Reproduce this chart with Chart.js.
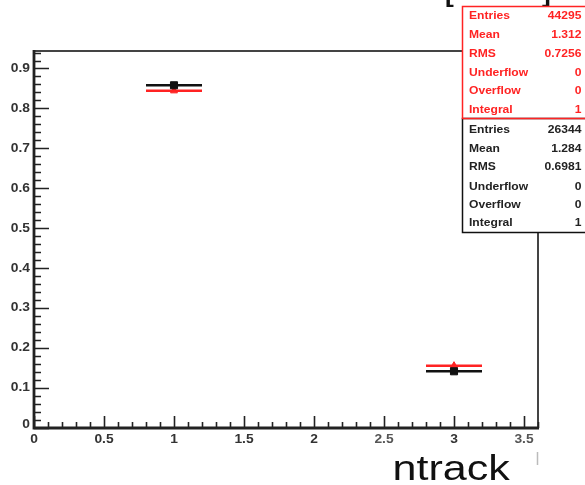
<!DOCTYPE html>
<html>
<head>
<meta charset="utf-8">
<script src="https://cdn.jsdelivr.net/npm/chart.js@4/dist/chart.umd.min.js"></script>
<style>html,body{margin:0;padding:0;background:#fff;}canvas{display:block;}</style>
</head>
<body>
<canvas id="c" width="585" height="485"></canvas>
<script>
// ---- data ----
const binCenters = [1, 3];
const binWidth = 0.4;
const xRange = [0, 3.6];
const redValues = [0.844, 0.156];
const blackValues = [0.858, 0.142];
const xTickLabels = ['0', '0.5', '1', '1.5', '2', '2.5', '3', '3.5'];
const xTickValues = [0, 0.5, 1, 1.5, 2, 2.5, 3, 3.5];
const yTickLabels = ['0', '0.1', '0.2', '0.3', '0.4', '0.5', '0.6', '0.7', '0.8', '0.9'];
const yTickValues = [0, 0.1, 0.2, 0.3, 0.4, 0.5, 0.6, 0.7, 0.8, 0.9];
const statLabels = ['Entries', 'Mean', 'RMS', 'Underflow', 'Overflow', 'Integral'];
const redStats = ['44295', '1.312', '0.7256', '0', '0', '1'];
const blackStats = ['26344', '1.284', '0.6981', '0', '0', '1'];
const axisTitle = 'ntrack';

const RED = 'rgb(255,35,35)';
const BLACK = '#111';
const yMax = 1.1 * Math.max(...redValues, ...blackValues);

function pts(vals) { return binCenters.map((c, i) => ({x: c, y: vals[i]})); }
function errSegs(vals, color) {
  return binCenters.map((c, i) => ({
    type: 'line',
    data: [{x: c - binWidth / 2, y: vals[i]}, {x: c + binWidth / 2, y: vals[i]}],
    borderColor: color, borderWidth: 2.5, pointRadius: 0, showLine: true, fill: false
  }));
}

function txt(ctx, s, x, y, align, font, color, sx, baseline) {
  ctx.save();
  ctx.font = font;
  ctx.fillStyle = color;
  ctx.textBaseline = baseline || 'middle';
  ctx.textAlign = 'left';
  const w = ctx.measureText(s).width * sx;
  const x0 = align === 'right' ? x - w : align === 'center' ? x - w / 2 : x;
  ctx.translate(x0, y);
  ctx.scale(sx, 1);
  ctx.fillText(s, 0, 0);
  ctx.restore();
}

const rootFrame = {
  id: 'rootFrame',
  beforeDatasetsDraw(chart) {
    const ctx = chart.ctx, a = chart.chartArea;
    const xs = chart.scales.x, ys = chart.scales.y;
    ctx.save();
    // top & right frame
    ctx.strokeStyle = '#444'; ctx.lineWidth = 2;
    ctx.beginPath();
    ctx.moveTo(a.left, a.top); ctx.lineTo(a.right, a.top); ctx.lineTo(a.right, a.bottom);
    ctx.stroke();
    // ticks
    ctx.strokeStyle = '#222'; ctx.lineWidth = 1.6;
    ctx.beginPath();
    for (let k = 0; k * 0.02 <= yMax + 1e-9; k++) {
      const v = k * 0.02;
      const py = Math.round(ys.getPixelForValue(v)) + 0.5;
      const len = (k % 5 === 0) ? 15 : 7;
      ctx.moveTo(a.left, py); ctx.lineTo(a.left + len, py);
    }
    for (let k = 0; k * 0.1 <= xRange[1] + 1e-9; k++) {
      const v = k * 0.1;
      const px = Math.round(xs.getPixelForValue(v)) + 0.5;
      const len = (k % 5 === 0) ? 12 : 6;
      ctx.moveTo(px, a.bottom); ctx.lineTo(px, a.bottom - len);
    }
    ctx.stroke();
    // left & bottom axis lines
    ctx.strokeStyle = '#222'; ctx.lineWidth = 2.8;
    ctx.beginPath();
    ctx.moveTo(a.left, a.top - 1); ctx.lineTo(a.left, a.bottom); ctx.lineTo(a.right + 1, a.bottom);
    ctx.stroke();
    ctx.restore();
    // tick labels
    yTickValues.forEach((v, i) => {
      txt(ctx, yTickLabels[i], a.left - 4, ys.getPixelForValue(v) - (i === 0 ? 3 : 0), 'right', 'bold 12px "Liberation Sans", Arial, sans-serif', '#333', 1.15);
    });
    xTickValues.forEach((v, i) => {
      txt(ctx, xTickLabels[i], xs.getPixelForValue(v), a.bottom + 12, 'center', 'bold 12px "Liberation Sans", Arial, sans-serif', (i === 5 || i === 7) ? '#555' : '#333', 1.15);
    });
  },
  afterDraw(chart) {
    const ctx = chart.ctx;
    // clipped title brackets
    txt(ctx, '[', 445, 2, 'left', 'bold 24px "Liberation Sans", Arial, sans-serif', '#111', 1.1, 'alphabetic');
    txt(ctx, ']', 542, 2, 'left', 'bold 24px "Liberation Sans", Arial, sans-serif', '#111', 1.1, 'alphabetic');
    // stat boxes
    const bx = 462.5, bw = 130, top = 6.5, mid = 118.5, bot = 232.5;
    ctx.save();
    ctx.fillStyle = '#fff';
    ctx.fillRect(bx, top, bw, bot - top);
    ctx.lineWidth = 1.5;
    ctx.strokeStyle = BLACK;
    ctx.strokeRect(bx, mid, bw, bot - mid);
    ctx.strokeStyle = RED;
    ctx.strokeRect(bx, top, bw, mid - top);
    ctx.restore();
    const f = 'bold 11px "Liberation Sans", Arial, sans-serif';
    const redRows = [16, 35, 53.5, 72.5, 91, 110];
    const blackRows = [129.5, 148.5, 167, 186.5, 205, 222.5];
    statLabels.forEach((l, i) => {
      txt(ctx, l, 469, redRows[i], 'left', f, RED, 1.1);
      txt(ctx, redStats[i], 581.5, redRows[i], 'right', f, RED, 1.1);
      txt(ctx, l, 469, blackRows[i], 'left', f, '#222', 1.1);
      txt(ctx, blackStats[i], 581.5, blackRows[i], 'right', f, '#222', 1.1);
    });
    // axis title
    txt(ctx, axisTitle, 392.5, 480, 'left', '35px "Liberation Sans", Arial, sans-serif', '#111', 1.23, 'alphabetic');
    // small grey mark
    ctx.save();
    ctx.strokeStyle = '#bbb'; ctx.lineWidth = 1.5;
    ctx.beginPath(); ctx.moveTo(537.5, 452); ctx.lineTo(537.5, 465); ctx.stroke();
    ctx.restore();
  }
};

const datasets = [
  {type: 'scatter', data: pts(blackValues), pointStyle: 'rect', pointRadius: 5, borderWidth: 1,
   backgroundColor: BLACK, borderColor: BLACK},
  ...errSegs(blackValues, BLACK),
  {type: 'scatter', data: pts(redValues), pointStyle: 'triangle', pointRadius: 4, borderWidth: 1,
   backgroundColor: RED, borderColor: RED},
  ...errSegs(redValues, RED)
];

new Chart(document.getElementById('c'), {
  type: 'scatter',
  data: {datasets},
  options: {
    responsive: false,
    animation: false,
    devicePixelRatio: 1,
    layout: {padding: {left: 34, top: 51, right: 47, bottom: 57}},
    plugins: {legend: {display: false}, tooltip: {enabled: false}},
    scales: {
      x: {type: 'linear', min: xRange[0], max: xRange[1], display: false},
      y: {type: 'linear', min: 0, max: yMax, display: false}
    },
    elements: {line: {tension: 0}}
  },
  plugins: [rootFrame]
});
</script>
</body>
</html>
